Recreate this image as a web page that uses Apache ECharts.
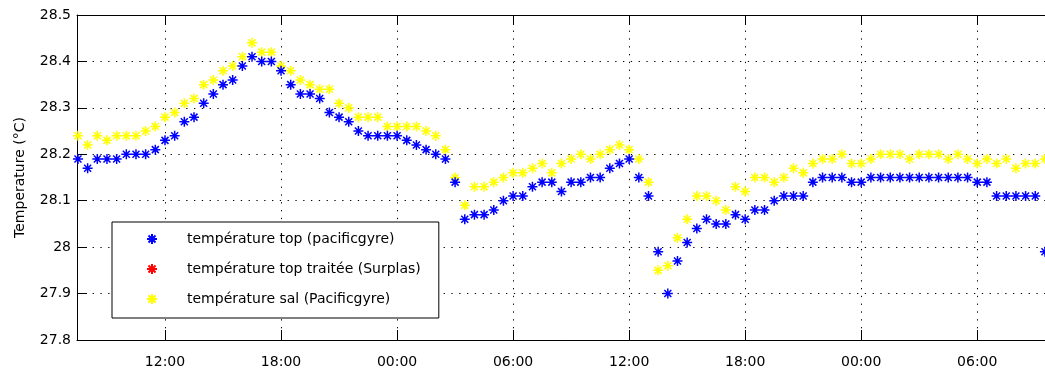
<!DOCTYPE html>
<html><head><meta charset="utf-8">
<script src="https://cdn.jsdelivr.net/npm/echarts@6/dist/echarts.min.js"></script>
<style>html,body{margin:0;padding:0;background:#fff}#c{width:1045px;height:374px}</style>
</head><body><div id="c"></div>
<script>
// sample times: every 30 min, starting 07:30 on day 1 (hours counted from day-1 midnight)
const startHour = 7.5;
const stepHours = 0.5;
const tickHours = [12, 18, 24, 30, 36, 42, 48, 54];
const tickLabels = ['12:00', '18:00', '00:00', '06:00', '12:00', '18:00', '00:00', '06:00'];
const yTicks = [27.8, 27.9, 28, 28.1, 28.2, 28.3, 28.4, 28.5];
const seriesNames = ['température top (pacificgyre)', 'température top traitée (Surplas)', 'température sal (Pacificgyre)'];

const tempTop = [
  28.19, 28.17, 28.19, 28.19, 28.19, 28.20, 28.20, 28.20, 28.21, 28.23,
  28.24, 28.27, 28.28, 28.31, 28.33, 28.35, 28.36, 28.39, 28.41, 28.40,
  28.40, 28.38, 28.35, 28.33, 28.33, 28.32, 28.29, 28.28, 28.27, 28.25,
  28.24, 28.24, 28.24, 28.24, 28.23, 28.22, 28.21, 28.20, 28.19, 28.14,
  28.06, 28.07, 28.07, 28.08, 28.10, 28.11, 28.11, 28.13, 28.14, 28.14,
  28.12, 28.14, 28.14, 28.15, 28.15, 28.17, 28.18, 28.19, 28.15, 28.11,
  27.99, 27.90, 27.97, 28.01, 28.04, 28.06, 28.05, 28.05, 28.07, 28.06,
  28.08, 28.08, 28.10, 28.11, 28.11, 28.11, 28.14, 28.15, 28.15, 28.15,
  28.14, 28.14, 28.15, 28.15, 28.15, 28.15, 28.15, 28.15, 28.15, 28.15,
  28.15, 28.15, 28.15, 28.14, 28.14, 28.11, 28.11, 28.11, 28.11, 28.11,
  27.99
];
const tempTopTraitee = [];
const tempSal = [
  28.24, 28.22, 28.24, 28.23, 28.24, 28.24, 28.24, 28.25, 28.26, 28.28,
  28.29, 28.31, 28.32, 28.35, 28.36, 28.38, 28.39, 28.41, 28.44, 28.42,
  28.42, 28.39, 28.38, 28.36, 28.35, 28.34, 28.34, 28.31, 28.30, 28.28,
  28.28, 28.28, 28.26, 28.26, 28.26, 28.26, 28.25, 28.24, 28.21, 28.15,
  28.09, 28.13, 28.13, 28.14, 28.15, 28.16, 28.16, 28.17, 28.18, 28.16,
  28.18, 28.19, 28.20, 28.19, 28.20, 28.21, 28.22, 28.21, 28.19, 28.14,
  27.95, 27.96, 28.02, 28.06, 28.11, 28.11, 28.10, 28.08, 28.13, 28.12,
  28.15, 28.15, 28.14, 28.15, 28.17, 28.16, 28.18, 28.19, 28.19, 28.20,
  28.18, 28.18, 28.19, 28.20, 28.20, 28.20, 28.19, 28.20, 28.20, 28.20,
  28.19, 28.20, 28.19, 28.18, 28.19, 28.18, 28.19, 28.17, 28.18, 28.18,
  28.19
];

const toPoints = arr => arr.map((v, i) => [startHour + i * stepHours, v]);
const asterisk = 'path://M5 0V10M0 5H10M1.5 1.5L8.5 8.5M1.5 8.5L8.5 1.5';
const FONT = 'DejaVu Sans';

function scatter(name, data, color) {
  return {
    name, type: 'scatter', data: toPoints(data),
    symbol: asterisk, symbolSize: 10, symbolKeepAspect: true,
    itemStyle: { color: color, borderColor: color, borderWidth: 1.5, opacity: 1 },
    emphasis: { disabled: true }, silent: true
  };
}

const chart = echarts.init(document.getElementById('c'), null, { renderer: 'canvas' });
const gridLine = { show: true, lineStyle: { color: '#000', width: 1, type: [1.3, 6.5] } };
chart.setOption({
  animation: false,
  backgroundColor: '#fff',
  textStyle: { fontFamily: FONT },
  grid: { left: 77, top: 15, width: 978, height: 325, outerBoundsMode: 'none', containLabel: false },
  xAxis: [{
    type: 'value', min: 7.45, max: 58.02, position: 'bottom',
    axisLine: { show: true, onZero: false, lineStyle: { color: '#000', width: 1 } },
    axisTick: { show: true, inside: true, length: 10, customValues: tickHours, lineStyle: { color: '#000' } },
    axisLabel: {
      customValues: tickHours, color: '#000', fontSize: 14, fontFamily: FONT, margin: 15,
      formatter: v => tickLabels[tickHours.indexOf(Math.round(v))] || ''
    },
    splitLine: gridLine
  }, {
    type: 'value', min: 7.45, max: 58.02, position: 'top',
    axisLine: { show: true, onZero: false, lineStyle: { color: '#000', width: 1 } },
    axisTick: { show: true, inside: true, length: 10, customValues: tickHours, lineStyle: { color: '#000' } },
    axisLabel: { show: false },
    splitLine: { show: false }
  }],
  yAxis: {
    type: 'value', min: 27.8, max: 28.5, interval: 0.1,
    name: 'Temperature (°C)', nameLocation: 'middle', nameGap: 50,
    nameTextStyle: { color: '#000', fontSize: 14, fontFamily: FONT },
    axisLine: { show: true, lineStyle: { color: '#000', width: 1 } },
    axisTick: { show: true, inside: true, length: 10, lineStyle: { color: '#000' } },
    axisLabel: { color: '#000', fontSize: 14, fontFamily: FONT, margin: 6,
      formatter: v => { const t = yTicks.find(x => Math.abs(x - v) < 1e-6); return t === undefined ? '' : String(t); } },
    splitLine: gridLine
  },
  legend: {
    orient: 'vertical', left: 112, top: 222,
    data: seriesNames,
    itemWidth: 60, itemHeight: 10, itemGap: 16,
    padding: [10, 18, 12, 34],
    borderColor: '#000', borderWidth: 1, borderRadius: 0, backgroundColor: '#fff',
    textStyle: { color: '#000', fontSize: 14, fontFamily: FONT, lineHeight: 14 },
    selectedMode: false
  },
  series: [
    scatter(seriesNames[2], tempSal, '#ffff00'),
    scatter(seriesNames[0], tempTop, '#0000ff'),
    scatter(seriesNames[1], tempTopTraitee, '#ff0000')
  ]
});
</script></body></html>
